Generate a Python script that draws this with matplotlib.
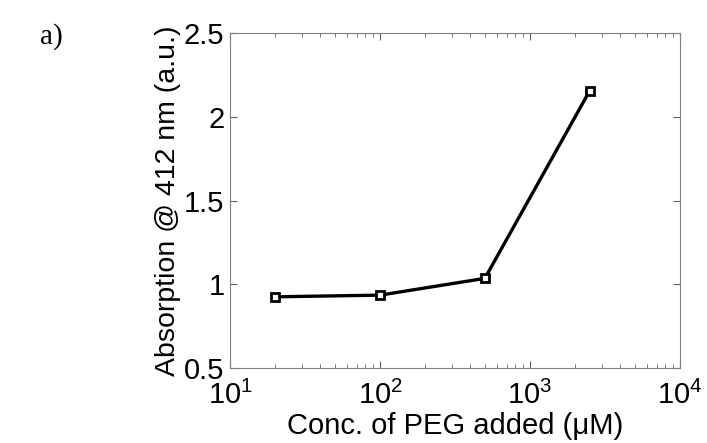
import matplotlib.pyplot as plt
from matplotlib.ticker import LogLocator, FixedLocator

# data
conc = [20, 100, 500, 2500]
absorption = [0.925, 0.935, 1.035, 2.155]
yticks = [0.5, 1, 1.5, 2, 2.5]

plt.rcParams['font.family'] = ['Liberation Sans', 'DejaVu Sans']
plt.rcParams['mathtext.fontset'] = 'custom'
plt.rcParams['mathtext.rm'] = 'Liberation Sans'
plt.rcParams['mathtext.it'] = 'Liberation Sans:italic'

fig = plt.figure(figsize=(7.07, 4.43), dpi=100)
ax = fig.add_axes([230 / 707, 1 - 368 / 443, 450 / 707, 335 / 443])

ax.plot(conc, absorption, color='black', linewidth=2.4, marker='s',
        markersize=6, markerfacecolor='white', markeredgecolor='black',
        markeredgewidth=2)

ax.set_xscale('log')
ax.set_xlim(10, 1e4)
ax.set_ylim(0.5, 2.5)
ax.yaxis.set_major_locator(FixedLocator(yticks))
ax.set_yticklabels(['0.5', '1', '1.5', '2', '2.5'])
ax.xaxis.set_minor_locator(LogLocator(base=10, subs=range(2, 10)))

for side in ax.spines.values():
    side.set_color('#808080')
ax.tick_params(which='both', direction='in', top=True, right=True,
               color='#606060', labelsize=21)
ax.tick_params(which='major', length=5)
ax.tick_params(which='minor', length=3)
ax.tick_params(axis='y', pad=4)
ax.tick_params(axis='x', pad=9)

ax.set_xlabel('Conc. of PEG added (\u03bcM)', fontsize=21, labelpad=2)
ax.set_ylabel('Absorption @ 412 nm (a.u.)', fontsize=20.5, labelpad=2)

fig.text(40 / 707, 1 - 37 / 443, 'a)', fontsize=21, family='Liberation Serif',
         va='center')

fig.savefig('out.png', dpi=100)
